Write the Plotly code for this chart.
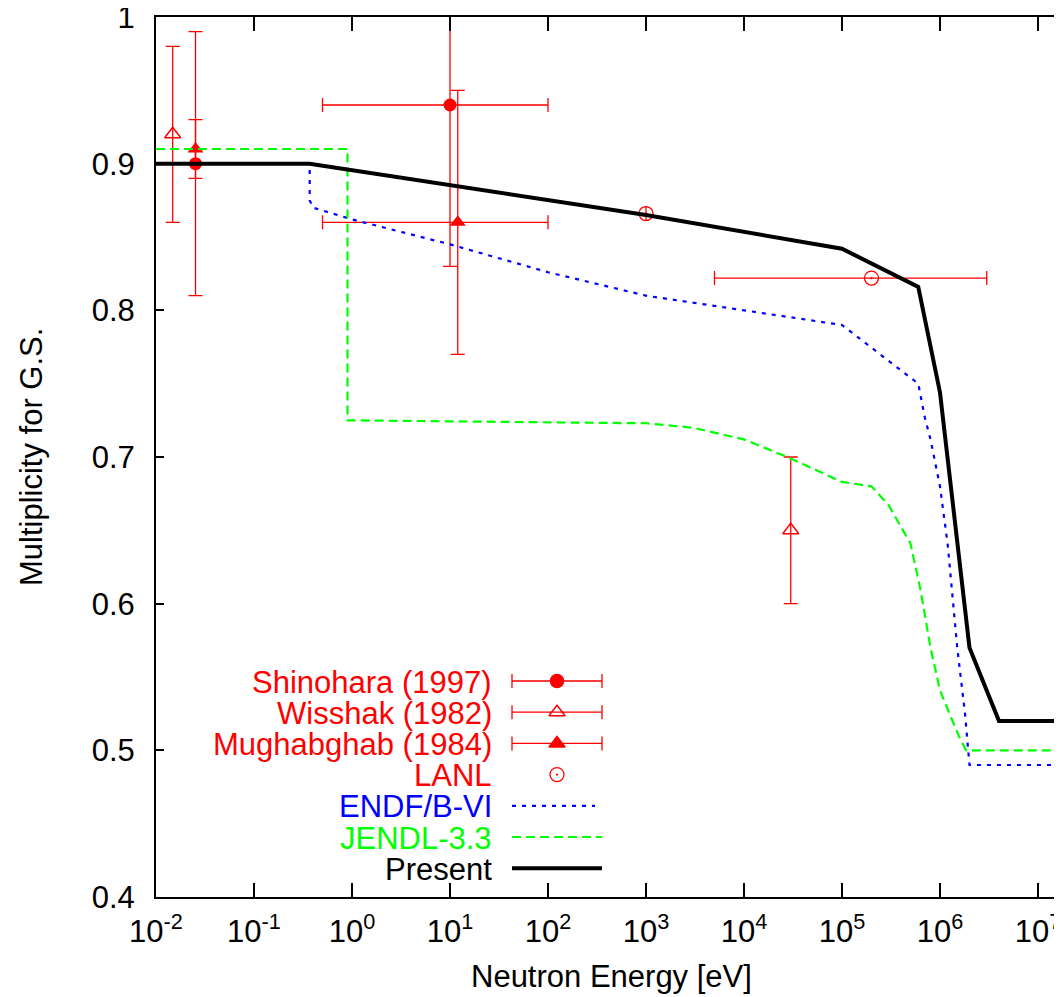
import plotly.graph_objects as go

# ---------------- data ----------------
# Experimental points
shin_x = [0.0253, 10.0]
shin_y = [0.90, 0.94]
shin_yerr = [0.09, 0.11]
shin_xerr_plus = [0.0, 90.0]
shin_xerr_minus = [0.0, 9.5]

wiss_x = [0.0148, 30000.0]
wiss_y = [0.92, 0.65]
wiss_yerr = [0.06, 0.05]

mugh_x = [0.0253, 12.0]
mugh_y = [0.91, 0.86]
mugh_yerr = [0.02, 0.09]
mugh_xerr_plus = [0.0, 88.0]
mugh_xerr_minus = [0.0, 11.5]

lanl_x = [1000.0, 2.0e5]
lanl_y = [0.866, 0.822]
lanl_xerr_plus = [0.0, 2.8e6]
lanl_xerr_minus = [0.0, 1.95e5]

# Evaluations
endf_x = [0.01, 0.37, 0.37, 0.4, 1.0, 10.0, 100.0, 1e3, 1e4, 1e5, 6e5, 7e5, 8e5,
          1e6, 1.2e6, 1.5e6, 1.8e6, 2e6, 2e7]
endf_y = [0.90, 0.90, 0.875, 0.870, 0.862, 0.845, 0.826, 0.810, 0.800, 0.790, 0.750,
          0.727, 0.712, 0.680, 0.640, 0.570, 0.525, 0.490, 0.490]

jendl_x = [0.01, 0.9, 0.9, 1e3, 3e3, 1e4, 3e4, 1e5, 2e5, 3e5, 5e5, 6.3e5, 8e5,
           1e6, 1.25e6, 1.6e6, 1.85e6, 2e7]
jendl_y = [0.91, 0.91, 0.725, 0.723, 0.720, 0.712, 0.699, 0.683, 0.680, 0.667, 0.641,
           0.610, 0.570, 0.541, 0.525, 0.508, 0.500, 0.500]

present_x = [0.01, 0.37, 1e3, 1e5, 6e5, 1e6, 2e6, 4e6, 2e7]
present_y = [0.90, 0.90, 0.865, 0.842, 0.816, 0.744, 0.570, 0.520, 0.520]

x_tickvals = [1e-2, 1e-1, 1e0, 1e1, 1e2, 1e3, 1e4, 1e5, 1e6, 1e7]
x_ticktext = ["10<sup>-2</sup>", "10<sup>-1</sup>", "10<sup>0</sup>", "10<sup>1</sup>",
              "10<sup>2</sup>", "10<sup>3</sup>", "10<sup>4</sup>", "10<sup>5</sup>",
              "10<sup>6</sup>", "10<sup>7</sup>"]
y_tickvals = [0.4, 0.5, 0.6, 0.7, 0.8, 0.9, 1.0]
y_ticktext = ["0.4", "0.5", "0.6", "0.7", "0.8", "0.9", "1"]

legend_labels = ["Shinohara (1997)", "Wisshak (1982)", "Mughabghab (1984)", "LANL",
                 "ENDF/B-VI", "JENDL-3.3", "Present"]

# ---------------- style ----------------
RED = "#ff0000"
BLUE = "#0000ff"
GREEN = "#00ff00"
BLACK = "#000000"
FONT = "Liberation Sans, Arial, sans-serif"
FS = 31

# the page body has an 8px margin; figure sized so the plot lands on target pixels
OFF = 8
W, H = 1062 - OFF, 997 - OFF
L, R, T, B = 156 - OFF, 0, 17 - OFF, 100
PX0, PX1 = L, W - R          # plot x extent in figure px
PY0, PY1 = H - B, T          # plot y extent (bottom, top) in figure px


def paper_x(page_px):
    return (page_px - OFF - PX0) / (PX1 - PX0)


def paper_y(page_px):
    return (PY0 - (page_px - OFF)) / (PY0 - PY1)


fig = go.Figure()

eb = dict(color=RED, thickness=1.3, width=7)


def err(arr, minus=None, visible=True):
    d = dict(type="data", array=arr, visible=visible, **eb)
    if minus is not None:
        d["symmetric"] = False
        d["arrayminus"] = minus
    return d


fig.add_trace(go.Scatter(x=shin_x, y=shin_y, mode="markers",
                         marker=dict(symbol="circle", size=13, color=RED),
                         error_y=err(shin_yerr),
                         error_x=err(shin_xerr_plus, shin_xerr_minus)))
fig.add_trace(go.Scatter(x=wiss_x, y=wiss_y, mode="markers",
                         marker=dict(symbol="triangle-up-open", size=14, color=RED,
                                     line=dict(width=1.5, color=RED)),
                         error_y=err(wiss_yerr)))
fig.add_trace(go.Scatter(x=mugh_x, y=mugh_y, mode="markers",
                         marker=dict(symbol="triangle-up", size=14, color=RED),
                         error_y=err(mugh_yerr),
                         error_x=err(mugh_xerr_plus, mugh_xerr_minus)))
fig.add_trace(go.Scatter(x=lanl_x, y=lanl_y, mode="markers",
                         marker=dict(symbol="circle-open-dot", size=14, color=RED,
                                     line=dict(width=1.3, color=RED)),
                         error_x=err(lanl_xerr_plus, lanl_xerr_minus)))

fig.add_trace(go.Scatter(x=endf_x, y=endf_y, mode="lines",
                         line=dict(color=BLUE, width=2.2, dash="4px,6px")))
fig.add_trace(go.Scatter(x=jendl_x, y=jendl_y, mode="lines",
                         line=dict(color=GREEN, width=2.2, dash="9px,5px")))
fig.add_trace(go.Scatter(x=present_x, y=present_y, mode="lines",
                         line=dict(color=BLACK, width=4)))

# ---------------- custom legend (page-pixel overlay axes) ----------------
LEG_TEXT_X = 494
LEG_X0, LEG_X1 = 512, 602
LEG_XC = (LEG_X0 + LEG_X1) / 2
LEG_Y0, LEG_DY = 681, 31.2
rows = [LEG_Y0 + i * LEG_DY for i in range(len(legend_labels))]
half = (LEG_X1 - LEG_XC)

leg = dict(xaxis="x3", yaxis="y3", showlegend=False, hoverinfo="skip")
sym = [("circle", 13, RED), ("triangle-up-open", 14, RED), ("triangle-up", 14, RED)]
for i in range(3):
    fig.add_trace(go.Scatter(x=[LEG_XC], y=[rows[i]], mode="markers",
                             marker=dict(symbol=sym[i][0], size=sym[i][1], color=RED,
                                         line=dict(width=1.5, color=RED)),
                             error_x=dict(type="constant", value=half, **eb), **leg))
fig.add_trace(go.Scatter(x=[LEG_XC], y=[rows[3]], mode="markers",
                         marker=dict(symbol="circle-open-dot", size=14, color=RED,
                                     line=dict(width=1.3, color=RED)), **leg))
fig.add_trace(go.Scatter(x=[LEG_X0, LEG_X1 - 7], y=[rows[4], rows[4]], mode="lines",
                         line=dict(color=BLUE, width=2.2, dash="4px,6px"), **leg))
fig.add_trace(go.Scatter(x=[LEG_X0, LEG_X1], y=[rows[5], rows[5]], mode="lines",
                         line=dict(color=GREEN, width=2.2, dash="9px,5px"), **leg))
fig.add_trace(go.Scatter(x=[LEG_X0, LEG_X1], y=[rows[6], rows[6]], mode="lines",
                         line=dict(color=BLACK, width=4), **leg))

leg_colors = [RED, RED, RED, RED, BLUE, GREEN, BLACK]
annotations = []
for lab, yy, c in zip(legend_labels, rows, leg_colors):
    annotations.append(dict(x=paper_x(LEG_TEXT_X), y=paper_y(yy + 1),
                            xref="paper", yref="paper", text=lab,
                            showarrow=False, xanchor="right", yanchor="middle",
                            font=dict(family=FONT, size=FS, color=c)))

# axis titles
annotations.append(dict(x=paper_x(611), y=paper_y(977), xref="paper", yref="paper",
                        text="Neutron Energy [eV]", showarrow=False,
                        xanchor="center", yanchor="middle",
                        font=dict(family=FONT, size=FS, color=BLACK)))
annotations.append(dict(x=paper_x(31), y=paper_y(457), xref="paper", yref="paper",
                        text="Multiplicity for G.S.", showarrow=False, textangle=-90,
                        xanchor="center", yanchor="middle",
                        font=dict(family=FONT, size=FS, color=BLACK)))

axis_common = dict(automargin=False, showgrid=False, zeroline=False)

fig.update_layout(
    width=W, height=H,
    margin=dict(l=L, r=R, t=T, b=B, pad=0, autoexpand=False),
    paper_bgcolor="white", plot_bgcolor="white",
    showlegend=False,
    font=dict(family=FONT, size=FS, color=BLACK),
    xaxis=dict(type="log", range=[-2, 7.245], tickvals=x_tickvals, ticktext=x_ticktext,
               ticks="inside", ticklen=14, tickwidth=2, tickcolor=BLACK,
               showline=True, linewidth=2, linecolor=BLACK, mirror="ticks",
               ticklabelstandoff=6, ticklabeloverflow="allow",
               tickfont=dict(family=FONT, size=FS, color=BLACK), **axis_common),
    yaxis=dict(range=[0.4, 1.0], tickvals=y_tickvals, ticktext=y_ticktext,
               ticks="inside", ticklen=8, tickwidth=2, tickcolor=BLACK,
               showline=True, linewidth=2, linecolor=BLACK, mirror=False,
               ticklabelstandoff=13, ticklabeloverflow="allow",
               tickfont=dict(family=FONT, size=FS, color=BLACK), **axis_common),
    yaxis2=dict(range=[0.4, 1.0], overlaying="y", side="right", anchor="x",
                tickvals=y_tickvals, ticks="inside", ticklen=8, tickwidth=2,
                tickcolor=BLACK, showticklabels=False, showline=False, **axis_common),
    # overlay axes in page-pixel units (used for legend samples)
    xaxis3=dict(overlaying="x", range=[PX0 + OFF, PX1 + OFF], visible=False,
                **axis_common),
    yaxis3=dict(overlaying="y", range=[PY0 + OFF, PY1 + OFF], visible=False,
                anchor="x3", **axis_common),
    annotations=annotations,
)

# empty trace so the right-hand tick axis is drawn
fig.add_trace(go.Scatter(x=[], y=[], yaxis="y2", showlegend=False, hoverinfo="skip"))

fig.write_html("out.html")
